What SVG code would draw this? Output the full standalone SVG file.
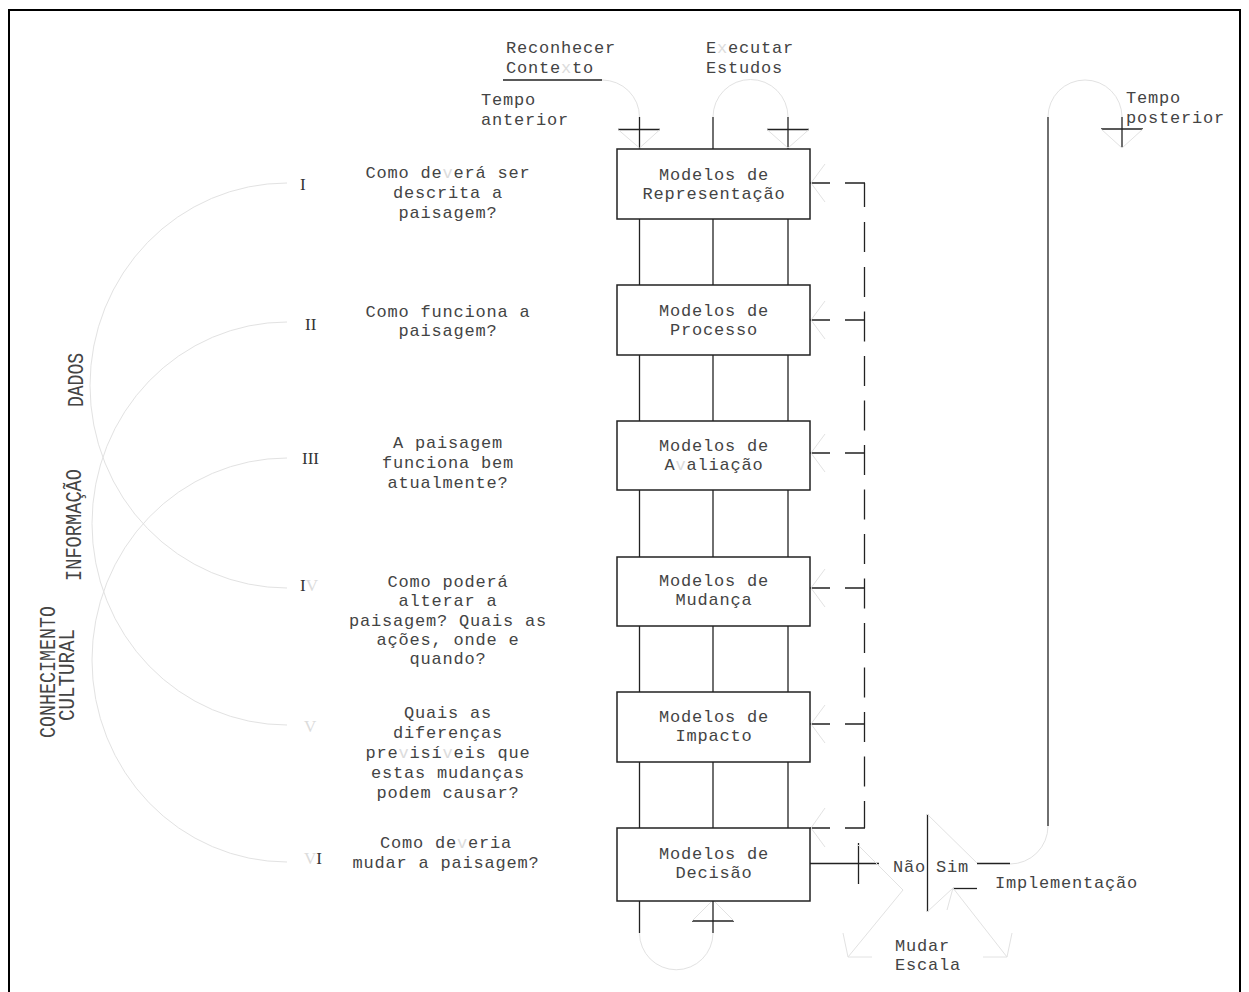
<svg xmlns="http://www.w3.org/2000/svg" width="1249" height="992" viewBox="0 0 1249 992">
<style>
.ln{stroke:#222;stroke-width:1.3;fill:none}
.fa{stroke:#e2e2e2;stroke-width:1;fill:none}
.box{fill:#fff;stroke:#222;stroke-width:1.5}
.t{font-family:"Liberation Mono","DejaVu Sans Mono",monospace;font-size:17px;fill:#444;letter-spacing:0.8px}
.m{text-anchor:middle}
.r{font-family:"Liberation Serif","DejaVu Serif",serif;font-size:17px;fill:#333}
.rot{font-family:"Liberation Mono","DejaVu Sans Mono",monospace;font-size:22px;fill:#444;text-anchor:middle}
.fv{fill:#dcdcdc}
</style>
<rect width="1249" height="992" fill="#fff"/>
<rect x="9" y="10" width="1231" height="1000" fill="none" stroke="#000" stroke-width="2"/>

<g id="connectors">
  <line class="ln" x1="639.5" y1="117" x2="639.5" y2="933"/>
  <line class="ln" x1="713" y1="117" x2="713" y2="933"/>
  <line class="ln" x1="788" y1="117" x2="788" y2="900"/>
  <line class="ln" x1="618" y1="129.5" x2="660" y2="129.5"/>
  <line class="ln" x1="767" y1="129.5" x2="809" y2="129.5"/>
  <path class="fa" d="M618,129.5 L639.5,148 L660,129.5 M767,129.5 L788,148 L809,129.5"/>
  <line class="ln" x1="692" y1="921" x2="734" y2="921"/>
  <path class="fa" d="M692,921 L713,900 L734,921"/>
  <path class="fa" d="M639.5,933 A36.75,36.75 0 0 0 713,933"/>
  <line class="ln" x1="503" y1="80" x2="602" y2="80"/>
  <path class="fa" d="M602,80 A37.5,37 0 0 1 639.5,117"/>
  <path class="fa" d="M713,117 A37.5,37.5 0 0 1 788,117"/>
  <path class="fa" d="M1048,117 A37,37 0 0 1 1122,117"/>
  <line class="ln" x1="1122" y1="117" x2="1122" y2="148"/>
  <line class="ln" x1="1101" y1="129" x2="1143" y2="129"/>
  <path class="fa" d="M1101,129 L1122,148 L1143,129"/>
  <line class="ln" x1="1048" y1="117" x2="1048" y2="826"/>
  <path class="fa" d="M1048,826 A38,38 0 0 1 1010,864"/>
  <line class="ln" x1="864.5" y1="183" x2="864.5" y2="828" stroke-dasharray="24 15 30 15 30 14.5 30 14.5 30 14.5 30 14.5 30 14.5 30 14.5 30 14.5 30 14.5 30 14.5 30 14.5 30 14.5 30 14.5 30 14.5 30 14.5"/>
  <path class="ln" d="M810,183 H830 M845,183 H865"/>
  <path class="ln" d="M810,320 H830 M845,320 H865"/>
  <path class="ln" d="M810,453 H830 M845,453 H865"/>
  <path class="ln" d="M810,588 H830 M845,588 H865"/>
  <path class="ln" d="M810,724 H830 M845,724 H865"/>
  <path class="ln" d="M810,828 H830 M845,828 H865"/>
  <path class="fa" d="M825,164 L811,183 L825,202 M825,301 L811,320 L825,339 M825,434 L811,453 L825,472 M825,569 L811,588 L825,607 M825,705 L811,724 L825,743 M825,808 L811,828 L825,847"/>
  <line class="ln" x1="810" y1="863.5" x2="879" y2="863.5"/>
  <line class="ln" x1="858.5" y1="843" x2="858.5" y2="884"/>
  <line class="ln" x1="927.5" y1="814" x2="927.5" y2="912"/>
  <line class="ln" x1="977" y1="863.5" x2="1010" y2="863.5"/>
  <line class="ln" x1="953" y1="888.5" x2="977" y2="888.5"/>
  <path class="fa" d="M858,845 L903,890 L848,957 M843,933 L848,957 L872,957 M927,814 L977,863 M927,912 L953,888 L1007,957 M947,910 L953,888 M983,957 L1007,957 L1012,933"/>
  <path class="fa" d="M287,183 A197,202.5 0 0 0 287,588"/>
  <path class="fa" d="M287,322 A195,201.5 0 0 0 287,725"/>
  <path class="fa" d="M287,458 A195,202 0 0 0 287,862"/>
</g>

<g id="box1"><rect class="box" x="617" y="149" width="193" height="70"/>
  <text class="t m" x="714" y="180">Modelos de</text><text class="t m" x="714" y="198.5">Representação</text></g>
<g id="box2"><rect class="box" x="617" y="285" width="193" height="70"/>
  <text class="t m" x="714" y="315.5">Modelos de</text><text class="t m" x="714" y="334.5">Processo</text></g>
<g id="box3"><rect class="box" x="617" y="421" width="193" height="69"/>
  <text class="t m" x="714" y="450.5">Modelos de</text><text class="t m" x="714" y="469.5">A<tspan class="fv">v</tspan>aliação</text></g>
<g id="box4"><rect class="box" x="617" y="557" width="193" height="69"/>
  <text class="t m" x="714" y="586">Modelos de</text><text class="t m" x="714" y="605">Mudança</text></g>
<g id="box5"><rect class="box" x="617" y="692" width="193" height="70"/>
  <text class="t m" x="714" y="722">Modelos de</text><text class="t m" x="714" y="741">Impacto</text></g>
<g id="box6"><rect class="box" x="617" y="828" width="193" height="73"/>
  <text class="t m" x="714" y="859">Modelos de</text><text class="t m" x="714" y="878">Decisão</text></g>

<g id="top-labels">
  <text class="t" x="506" y="53">Reconhecer</text>
  <text class="t" x="506" y="73">Conte<tspan class="fv">x</tspan>to</text>
  <text class="t" x="706" y="53">E<tspan class="fv">x</tspan>ecutar</text>
  <text class="t" x="706" y="73">Estudos</text>
  <text class="t" x="481" y="105">Tempo</text>
  <text class="t" x="481" y="125">anterior</text>
  <text class="t" x="1126" y="103">Tempo</text>
  <text class="t" x="1126" y="123">posterior</text>
</g>

<g id="q1"><text class="r" x="300" y="190">I</text>
  <text class="t m" x="448" y="178">Como de<tspan class="fv">v</tspan>erá ser</text>
  <text class="t m" x="448" y="198">descrita a</text>
  <text class="t m" x="448" y="218">paisagem?</text></g>
<g id="q2"><text class="r" x="305" y="330">II</text>
  <text class="t m" x="448" y="317">Como funciona a</text>
  <text class="t m" x="448" y="336">paisagem?</text></g>
<g id="q3"><text class="r" x="302" y="464">III</text>
  <text class="t m" x="448" y="448">A paisagem</text>
  <text class="t m" x="448" y="468">funciona bem</text>
  <text class="t m" x="448" y="488">atualmente?</text></g>
<g id="q4"><text class="r" x="300" y="591">I<tspan class="fv">V</tspan></text>
  <text class="t m" x="448" y="587">Como poderá</text>
  <text class="t m" x="448" y="606">alterar a</text>
  <text class="t m" x="448" y="626">paisagem? Quais as</text>
  <text class="t m" x="448" y="645">ações, onde e</text>
  <text class="t m" x="448" y="664">quando?</text></g>
<g id="q5"><text class="r fv" x="304" y="732">V</text>
  <text class="t m" x="448" y="718">Quais as</text>
  <text class="t m" x="448" y="738">diferenças</text>
  <text class="t m" x="448" y="758">pre<tspan class="fv">v</tspan>isí<tspan class="fv">v</tspan>eis que</text>
  <text class="t m" x="448" y="778">estas mudanças</text>
  <text class="t m" x="448" y="798">podem causar?</text></g>
<g id="q6"><text class="r" x="304" y="864"><tspan class="fv">V</tspan>I</text>
  <text class="t m" x="446" y="848">Como de<tspan class="fv">v</tspan>eria</text>
  <text class="t m" x="446" y="868">mudar a paisagem?</text></g>

<g id="decision-labels">
  <text class="t" x="893" y="872">Não</text>
  <text class="t" x="936" y="872">Sim</text>
  <text class="t" x="995" y="888">Implementação</text>
  <text class="t" x="895" y="951">Mudar</text>
  <text class="t" x="895" y="970">Escala</text>
</g>

<g id="side-labels">
  <text class="rot" transform="translate(83,380) rotate(-90)" textLength="54" lengthAdjust="spacingAndGlyphs">DADOS</text>
  <text class="rot" transform="translate(81,525) rotate(-90)" textLength="112" lengthAdjust="spacingAndGlyphs">INFORMAÇÃO</text>
  <text class="rot" transform="translate(55,672) rotate(-90)" textLength="132" lengthAdjust="spacingAndGlyphs">CONHECIMENTO</text>
  <text class="rot" transform="translate(74,675) rotate(-90)" textLength="92" lengthAdjust="spacingAndGlyphs">CULTURAL</text>
</g>
</svg>
